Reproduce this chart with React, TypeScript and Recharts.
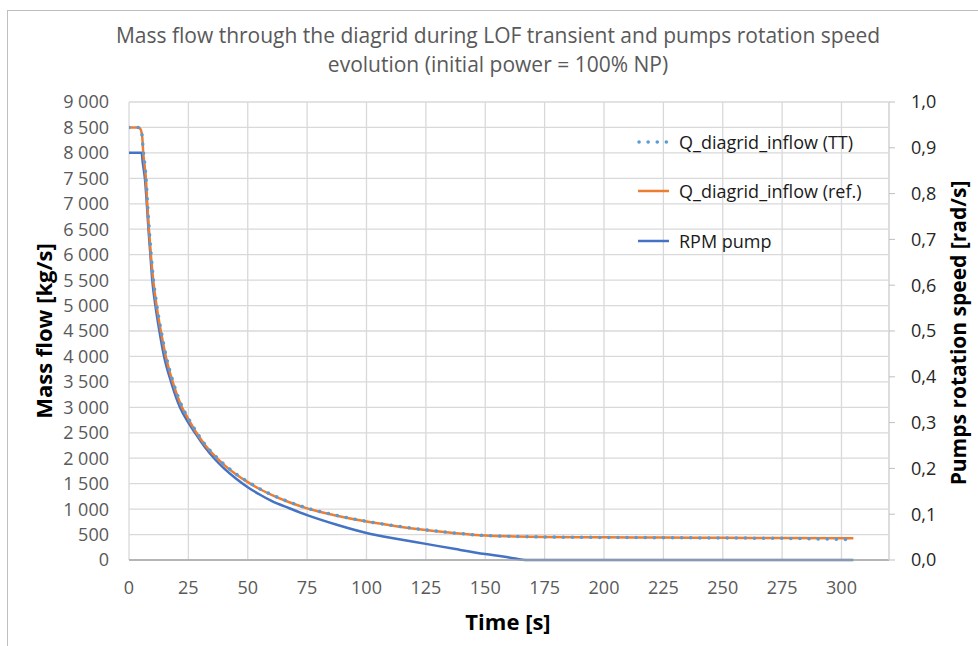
import React from 'react';
import { LineChart, Line, XAxis, YAxis, CartesianGrid, Legend } from 'recharts';

// ---- data ----
const refTime = [0, 3.8, 4.6, 5.2, 5.6, 6.0, 6.5, 7.1, 7.7, 8.4, 9.2, 10.2, 11.6, 13.4, 15.5, 18.4, 22.3, 25, 28.4, 32, 36, 40, 45, 50, 55, 60, 67.5, 75, 87.5, 100, 112.5, 125, 137.5, 150, 162.5, 175, 200, 225, 250, 275, 305];
const refFlow = [8500, 8500, 8480, 8420, 8300, 8000, 7780, 7500, 7000, 6500, 6000, 5500, 5000, 4500, 4000, 3500, 3000, 2770, 2500, 2260, 2050, 1870, 1685, 1530, 1395, 1280, 1135, 1015, 870, 755, 665, 590, 527, 480, 462, 452, 445, 440, 435, 430, 425];

const ttTime = [0, 3.8, 4.8, 5.4, 6.0, 6.6, 7.2, 7.8, 8.5, 9.3, 10.3, 11.7, 13.5, 15.6, 18.5, 22.4, 25, 28.5, 32, 36, 40, 45, 50, 55, 60, 67.5, 75, 87.5, 100, 112.5, 125, 137.5, 150, 162.5, 175, 200, 225, 250, 275, 290, 302];
const ttFlow = [8500, 8500, 8470, 8380, 8050, 7800, 7490, 7000, 6510, 6010, 5500, 5010, 4510, 4010, 3510, 3010, 2780, 2510, 2270, 2060, 1880, 1695, 1540, 1400, 1285, 1140, 1020, 875, 760, 668, 592, 528, 481, 463, 452, 444, 438, 432, 426, 415, 405];

const rpmTime = [0, 5.3, 5.8, 6.7, 7.5, 8.2, 9.0, 9.8, 11.1, 12.8, 14.8, 17.7, 21.5, 25, 28, 32, 36, 40, 45, 50, 55, 60, 67.5, 75, 87.5, 100, 112.5, 125, 137.5, 150, 160, 168, 305];
const rpmSpeed = [0.889, 0.889, 0.867, 0.833, 0.778, 0.722, 0.667, 0.611, 0.556, 0.5, 0.444, 0.389, 0.333, 0.3, 0.276, 0.246, 0.221, 0.2, 0.178, 0.159, 0.143, 0.129, 0.113, 0.098, 0.077, 0.059, 0.0465, 0.0352, 0.0238, 0.013, 0.0056, 0, 0];

const timeTicks = [0, 25, 50, 75, 100, 125, 150, 175, 200, 225, 250, 275, 300];
const flowTicks = [0, 500, 1000, 1500, 2000, 2500, 3000, 3500, 4000, 4500, 5000, 5500, 6000, 6500, 7000, 7500, 8000, 8500, 9000];
const speedTicks = [0, 0.1, 0.2, 0.3, 0.4, 0.5, 0.6, 0.7, 0.8, 0.9, 1.0];

const titleLines = ['Mass flow through the diagrid during LOF transient and pumps rotation speed', 'evolution (initial power = 100% NP)'];
const seriesNames = ['Q_diagrid_inflow (TT)', 'Q_diagrid_inflow (ref.)', 'RPM pump'];
const seriesColors = ['#5B9BD5', '#ED7D31', '#4472C4'];

const refData = refTime.map((t, i) => ({ t, v: refFlow[i] }));
const ttData = ttTime.map((t, i) => ({ t, v: ttFlow[i] }));
const rpmData = rpmTime.map((t, i) => ({ t, v: rpmSpeed[i] }));

const FONT = '"Open Sans", "Noto Sans", sans-serif';

const fmtFlow = (n: number) => {
  if (n < 1000) return String(n);
  const th = Math.floor(n / 1000);
  const rest = String(n % 1000).padStart(3, '0');
  return `${th} ${rest}`;
};
const fmtSpeed = (n: number) => n.toFixed(1).replace('.', ',');

const LegendContent = () => (
  <div style={{ fontFamily: FONT, fontSize: 18, color: '#1a1a1a' }}>
    {seriesNames.map((name, i) => (
      <div key={name} style={{ height: 49.5, display: 'flex', alignItems: 'center', whiteSpace: 'nowrap' }}>
        <svg width={40} height={10} style={{ display: 'block' }}>
          {i === 0 ? (
            <line x1={5} y1={5} x2={34} y2={5} stroke={seriesColors[i]} strokeWidth={3.5} strokeDasharray="0.1 9" strokeLinecap="round" />
          ) : (
            <line x1={4} y1={5} x2={35} y2={5} stroke={seriesColors[i]} strokeWidth={2.5} />
          )}
        </svg>
        <span style={{ marginLeft: 5 }}>{name}</span>
      </div>
    ))}
  </div>
);

export default function App() {
  return (
    <div style={{ position: 'relative', width: 978, height: 646, overflow: 'hidden', background: '#fff' }}>
      <style>{`body{margin:0;}`}</style>
      <div style={{ position: 'absolute', left: 7, top: 10, width: 980, height: 650, borderLeft: '1px solid #BFBFBF', borderTop: '1px solid #BFBFBF' }} />
      <LineChart width={978} height={646} margin={{ top: 102, right: 29, bottom: 56, left: 69 }}>
        <CartesianGrid yAxisId="left" stroke="#D9D9D9" strokeWidth={1.3} />
        <XAxis
          dataKey="t"
          type="number"
          domain={[0, 320]}
          ticks={timeTicks}
          interval={0}
          allowDataOverflow
          height={30}
          tickLine={false}
          tickSize={0}
          tickMargin={21}
          axisLine={{ stroke: '#A6A6A6', strokeWidth: 1.5 }}
          tick={{ fill: '#595959', fontSize: 18, fontFamily: FONT }}
        />
        <YAxis
          yAxisId="left"
          orientation="left"
          width={60}
          domain={[0, 9000]}
          ticks={flowTicks}
          interval={0}
          tickFormatter={fmtFlow}
          axisLine={false}
          tickLine={false}
          tickSize={0}
          tickMargin={20}
          tick={{ fill: '#595959', fontSize: 18, fontFamily: FONT }}
        />
        <YAxis
          yAxisId="right"
          orientation="right"
          width={60}
          domain={[0, 1]}
          ticks={speedTicks}
          interval={0}
          tickFormatter={fmtSpeed}
          axisLine={{ stroke: '#D9D9D9', strokeWidth: 1.3 }}
          tickLine={{ stroke: '#BFBFBF' }}
          tickSize={6}
          tickMargin={16}
          tick={{ fill: '#262626', fontSize: 18, fontFamily: FONT }}
        />
        <Legend
          layout="vertical"
          align="center"
          verticalAlign="middle"
          content={<LegendContent />}
          wrapperStyle={{ left: 634, top: 117, width: 280 }}
        />
        <Line yAxisId="right" data={rpmData} dataKey="v" type="monotone" stroke={seriesColors[2]} strokeWidth={2.5} dot={false} activeDot={false} isAnimationActive={false} name={seriesNames[2]} />
        <Line yAxisId="left" data={refData} dataKey="v" type="monotone" stroke={seriesColors[1]} strokeWidth={2.5} dot={false} activeDot={false} isAnimationActive={false} name={seriesNames[1]} />
        <Line yAxisId="left" data={ttData} dataKey="v" type="monotone" stroke={seriesColors[0]} strokeWidth={3.5} strokeDasharray="0.1 9" strokeLinecap="round" dot={false} activeDot={false} isAnimationActive={false} name={seriesNames[0]} />
      </LineChart>
      <div style={{ position: 'absolute', left: 0, width: 996, top: 21, textAlign: 'center', fontFamily: FONT, fontSize: 21, lineHeight: '29px', color: '#595959' }}>
        {titleLines.map((l) => (<div key={l}>{l}</div>))}
      </div>
      <div style={{ position: 'absolute', left: 43, top: 331, transform: 'translate(-50%, -50%) rotate(-90deg)', whiteSpace: 'nowrap', fontFamily: FONT, fontSize: 22, fontWeight: 700, color: '#000' }}>
        Mass flow [kg/s]
      </div>
      <div style={{ position: 'absolute', left: 958, top: 333, transform: 'translate(-50%, -50%) rotate(-90deg)', whiteSpace: 'nowrap', fontFamily: FONT, fontSize: 21, fontWeight: 700, color: '#000' }}>
        Pumps rotation speed [rad/s]
      </div>
      <div style={{ position: 'absolute', left: 508, top: 621, transform: 'translate(-50%, -50%)', whiteSpace: 'nowrap', fontFamily: FONT, fontSize: 22, fontWeight: 700, color: '#000' }}>
        Time [s]
      </div>
    </div>
  );
}
